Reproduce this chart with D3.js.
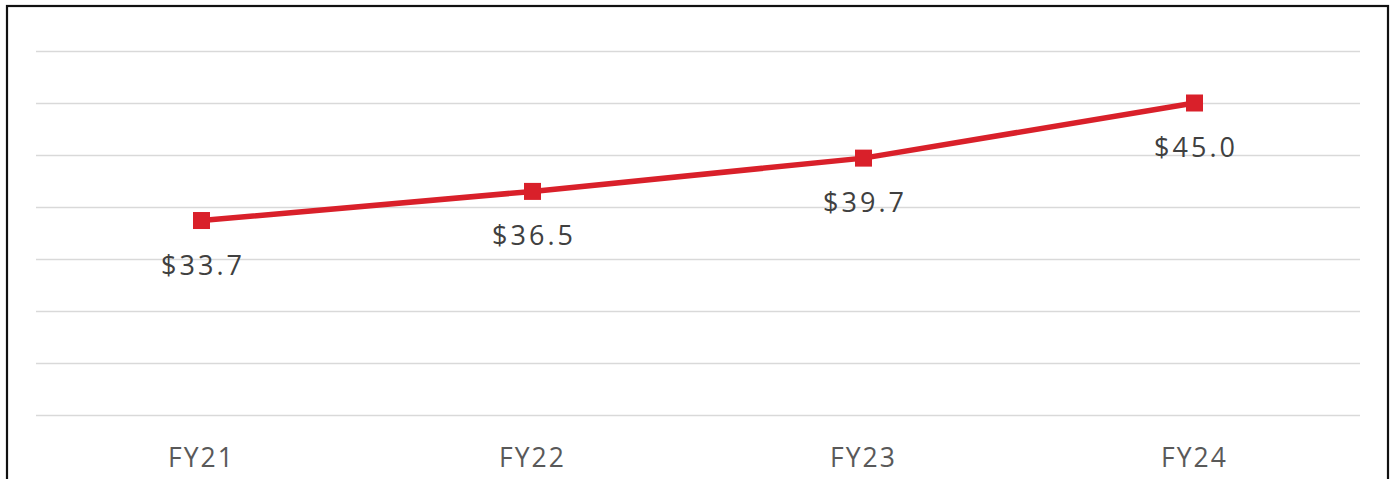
<!DOCTYPE html>
<html>
<head>
<meta charset="utf-8">
<script src="https://cdn.jsdelivr.net/npm/d3@7"></script>
<style>
  html, body { margin: 0; padding: 0; background: #fff; overflow: hidden; }
</style>
</head>
<body>
<svg id="chart" width="1391" height="479"></svg>
<script>
const years = ['FY21', 'FY22', 'FY23', 'FY24']
const revenue = [33.7, 36.5, 39.7, 45.0]
const gridTicks = [15, 20, 25, 30, 35, 40, 45, 50]

let settings = {
  margin: { top: 51, left: 36, bottom: 64, right: 31 },
  width: 1391,
  height: 479,
  lineColor: '#d9202a',
  font: '"Open Sans", sans-serif'
}

const data = years.map((y, i) => ({ year: y, value: revenue[i] }))

const innerwidth = settings.width - settings.margin.left - settings.margin.right,
  innerheight = settings.height - settings.margin.top - settings.margin.bottom

let svg = d3.select('#chart')

// 外框
svg.append('rect')
  .attr('x', 7).attr('y', 6)
  .attr('width', 1381).attr('height', 520)
  .attr('fill', 'none')
  .attr('stroke', '#111')
  .attr('stroke-width', 2.2)

let canvas = svg.append('g')
  .attr('transform', `translate(${settings.margin.left},${settings.margin.top})`)

let xScale = d3.scaleBand().domain(years).range([0, innerwidth]).padding(0)
let yScale = d3.scaleLinear().domain([50, 15]).range([0, innerheight])

// 网格线
let yAxis = d3.axisLeft(yScale).tickValues(gridTicks).tickSize(-innerwidth).tickFormat('')
let yAxisGroup = canvas.append('g').call(yAxis)
yAxisGroup.select('.domain').remove()
yAxisGroup.selectAll('.tick line').attr('stroke', '#d9d9d9').attr('stroke-width', 1.6)

// x轴
let xAxis = d3.axisBottom(xScale).tickSize(0).tickPadding(0)
let xAxisGroup = canvas.append('g')
  .attr('transform', `translate(0,${innerheight})`)
  .call(xAxis)
xAxisGroup.select('.domain').remove()
xAxisGroup.selectAll('text')
  .attr('dy', null)
  .attr('y', 52)
  .attr('font-family', settings.font)
  .attr('font-size', '26.5px')
  .attr('letter-spacing', '2px')
  .attr('fill', '#595959')

const cx = (d) => xScale(d.year) + xScale.bandwidth() / 2

// 折线
let line = d3.line().x(cx).y((d) => yScale(d.value))
canvas.append('path')
  .datum(data)
  .attr('d', line)
  .attr('fill', 'none')
  .attr('stroke', settings.lineColor)
  .attr('stroke-width', 5.5)

// 标记
const ms = 17
canvas.selectAll('.marker')
  .data(data)
  .enter()
  .append('rect')
  .attr('class', 'marker')
  .attr('x', (d) => cx(d) - ms / 2)
  .attr('y', (d) => yScale(d.value) - ms / 2)
  .attr('width', ms)
  .attr('height', ms)
  .attr('fill', settings.lineColor)

// 数值
canvas.selectAll('.value')
  .data(data)
  .enter()
  .append('text')
  .attr('class', 'value')
  .text((d) => '$' + d.value.toFixed(1))
  .attr('x', cx)
  .attr('dx', 1.5)
  .attr('y', (d) => yScale(d.value) + 54)
  .attr('text-anchor', 'middle')
  .attr('font-family', settings.font)
  .attr('font-size', '27px')
  .attr('letter-spacing', '3px')
  .attr('fill', '#404040')
</script>
</body>
</html>
